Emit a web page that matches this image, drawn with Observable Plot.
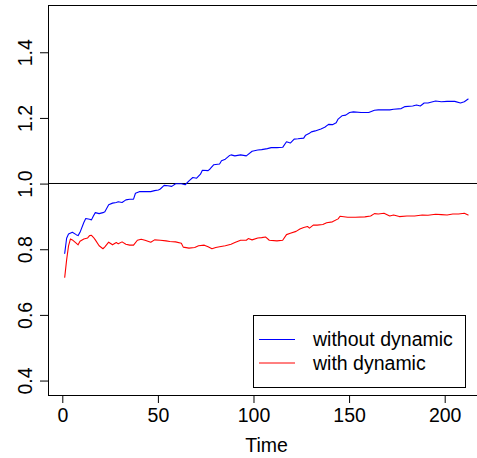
<!DOCTYPE html>
<html>
<head>
<meta charset="utf-8">
<script src="https://cdn.jsdelivr.net/npm/d3@7"></script>
<script src="https://cdn.jsdelivr.net/npm/@observablehq/plot@0.6"></script>
<style>
  html, body { margin: 0; padding: 0; background: #fff; }
  #chart { position: relative; width: 477px; height: 458px; }
</style>
</head>
<body>
<div id="chart"></div>
<script>
// ---- data ----
const blueTime = [1,2,3,5,7,8,9,11,12,14,15,16,17,19,21,22,24,26,28,29,31,33,35,37,38,40,42,44,46,48,50,51,53,55,57,59,62,64,66,68,70,72,73,76,77,79,82,83,85,87,88,90,93,96,99,102,104,107,109,112,115,117,119,121,123,126,127,129,130,132,135,137,139,141,143,144,146,148,150,152,156,160,163,165,168,171,173,177,179,183,185,187,189,191,195,198,201,205,208,210,212];
const blueValue = [0.789,0.835,0.848,0.853,0.846,0.843,0.853,0.883,0.895,0.893,0.891,0.903,0.913,0.910,0.913,0.916,0.937,0.942,0.944,0.946,0.944,0.952,0.954,0.954,0.972,0.977,0.977,0.977,0.977,0.980,0.982,0.985,0.996,0.995,0.993,1.001,1.001,0.998,1.010,1.020,1.018,1.030,1.042,1.041,1.046,1.059,1.061,1.071,1.076,1.086,1.089,1.086,1.089,1.086,1.100,1.104,1.105,1.108,1.111,1.111,1.112,1.129,1.125,1.137,1.138,1.140,1.149,1.155,1.159,1.162,1.168,1.173,1.182,1.181,1.187,1.198,1.208,1.210,1.218,1.220,1.218,1.218,1.225,1.226,1.226,1.226,1.228,1.230,1.236,1.238,1.241,1.238,1.247,1.247,1.253,1.251,1.252,1.252,1.247,1.251,1.259];
const redTime = [1,2,3,4,5,7,8,9,11,13,14,15,16,17,19,21,22,24,26,28,29,31,33,35,37,39,41,43,46,48,51,54,56,59,62,63,66,69,71,74,76,78,80,82,85,88,90,93,96,97,99,102,104,106,108,112,115,117,119,122,124,126,128,129,131,133,136,138,141,144,145,149,153,158,161,163,165,168,171,173,176,180,184,188,191,195,198,201,204,207,210,212];
const redValue = [0.716,0.769,0.812,0.833,0.830,0.820,0.815,0.826,0.833,0.836,0.843,0.844,0.838,0.830,0.812,0.803,0.809,0.823,0.815,0.822,0.818,0.824,0.817,0.814,0.814,0.829,0.832,0.829,0.823,0.830,0.829,0.827,0.825,0.824,0.820,0.808,0.805,0.807,0.812,0.814,0.809,0.803,0.807,0.809,0.812,0.817,0.822,0.829,0.829,0.834,0.830,0.836,0.837,0.839,0.829,0.827,0.829,0.846,0.850,0.856,0.863,0.868,0.871,0.866,0.875,0.875,0.877,0.882,0.885,0.894,0.902,0.899,0.899,0.900,0.903,0.910,0.909,0.911,0.903,0.906,0.901,0.903,0.903,0.906,0.905,0.908,0.907,0.906,0.909,0.909,0.911,0.906];
const referenceLevel = [1.0];
const xTicks = [0, 50, 100, 150, 200];
const yTicks = [0.4, 0.6, 0.8, 1.0, 1.2, 1.4];
const seriesNames = ["without dynamic", "with dynamic"];
const seriesColors = ["#0000ff", "#ff0000"];
const xTitle = "Time";

// ---- build rows ----
const blueRows = blueTime.map((t, i) => ({t, v: blueValue[i]}));
const redRows = redTime.map((t, i) => ({t, v: redValue[i]}));

const xDomain = [-7.48, 216.9];
const yDomain = [0.356, 1.544];
const FONT = "'Liberation Sans', Arial, Helvetica, sans-serif";
const FS = 19.5;

const chart = Plot.plot({
  width: 477,
  height: 458,
  marginLeft: 48,
  marginRight: 0,
  marginTop: 5,
  marginBottom: 63,
  style: {fontFamily: FONT, fontSize: FS + "px", background: "#fff", color: "#000"},
  x: {domain: xDomain, label: null},
  y: {domain: yDomain, label: null},
  marks: [
    // box (left, top, bottom)
    Plot.ruleX([xDomain[0]], {stroke: "#000", strokeWidth: 1}),
    Plot.ruleY([yDomain[0], yDomain[1]], {stroke: "#000", strokeWidth: 1}),
    // axes
    Plot.axisX(xTicks, {tickSize: 8, tickPadding: 5, fontSize: FS, label: null, stroke: "#000"}),
    Plot.axisY(yTicks, {tickSize: 8, tickFormat: () => "", label: null, stroke: "#000"}),
    Plot.text(yTicks, {
      y: d => d, text: d => d.toFixed(1), frameAnchor: "left", dx: -17,
      rotate: -90, textAnchor: "middle", lineAnchor: "bottom", fontSize: FS, fill: "#000"
    }),
    Plot.text([xTitle], {
      text: d => d, frameAnchor: "bottom", dx: 3.5, dy: 56.5,
      textAnchor: "middle", lineAnchor: "bottom", fontSize: FS, fill: "#000"
    }),
    // reference line
    Plot.ruleY(referenceLevel, {stroke: "#000", strokeWidth: 1, dy: -0.6}),
    // series
    Plot.line(redRows, {x: "t", y: "v", stroke: seriesColors[1], strokeWidth: 1.1, curve: "linear"}),
    Plot.line(blueRows, {x: "t", y: "v", stroke: seriesColors[0], strokeWidth: 1.1, curve: "linear"})
  ]
});

document.getElementById("chart").appendChild(chart);

// ---- legend (inside plot, bottom right, as in R) ----
const svg = d3.select(chart);
const lg = svg.append("g")
  .attr("font-family", FONT)
  .attr("font-size", FS)
  .attr("text-anchor", "start");
lg.append("rect")
  .attr("x", 253.5).attr("y", 315.5).attr("width", 212).attr("height", 72)
  .attr("fill", "#fff").attr("stroke", "#000").attr("stroke-width", 1);
seriesNames.forEach((name, i) => {
  const cy = 339.5 + i * 23.5;
  lg.append("line")
    .attr("x1", 259).attr("x2", 295).attr("y1", cy).attr("y2", cy)
    .attr("stroke", seriesColors[i]).attr("stroke-width", 1);
  lg.append("text")
    .attr("x", 313).attr("y", cy + 6.5)
    .attr("text-anchor", "start")
    .attr("fill", "#000")
    .text(name);
});
</script>
</body>
</html>
